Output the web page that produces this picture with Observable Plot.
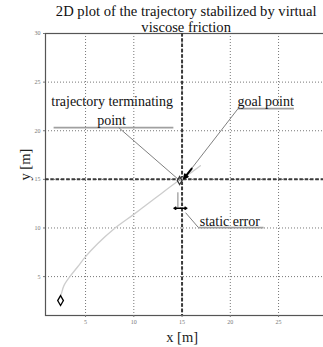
<!DOCTYPE html>
<html>
<head>
<meta charset="utf-8">
<script src="https://cdn.jsdelivr.net/npm/d3@7"></script>
<script src="https://cdn.jsdelivr.net/npm/@observablehq/plot@0.6"></script>
<style>
  html, body { margin: 0; padding: 0; background: #fff; overflow: hidden; }
  #chart svg { display: block; font-family: "Liberation Serif", "Times New Roman", serif; }
</style>
</head>
<body>
<div id="chart"></div>
<script>
// ---- data ----
const titleLines = ["2D plot of the trajectory stabilized by virtual", "viscose friction"];
const xLabel = "x [m]";
const yLabel = "y [m]";
const xTicks = [5, 10, 15, 20, 25];
const yTicks = [5, 10, 15, 20, 25, 30];
const xDomain = [0.85, 30];
const yDomain = [1, 30];

// trajectory (light gray curve)
const trajX = [2.41, 2.5, 2.76, 3.38, 4.15, 5.0, 6.22, 7.94, 10.0, 12.0, 14.67, 15.8, 16.9];
const trajY = [2.95, 3.25, 4.07, 5.0, 5.96, 7.06, 8.36, 9.9, 11.4, 12.9, 14.88, 15.6, 16.4];
// start point marker and terminating point marker
const startX = [2.41], startY = [2.53];
const termX = [14.75], termY = [14.88];
// goal point (dashed cross)
const goalX = [15], goalY = [15];

// annotation texts
const noteText = ["trajectory terminating", "point", "goal point", "static error"];
const noteX = [7.75, 7.7, 23.66, 19.95];
const noteY = [23.05, 21.1, 23.05, 10.65];

// underlines
const ulX1 = [1.69, 20.76, 16.7], ulX2 = [14.1, 26.6, 23.45];
const ulY = [20.33, 22.27, 10.04];

// pointer lines
const ptrX1 = [8.43, 20.8, 16.7, 14.57], ptrY1 = [20.33, 22.27, 10.04, 13.67];
const ptrX2 = [14.75, 15.2, 15.37, 14.57], ptrY2 = [14.88, 15.1, 11.57, 12.1];

// goal arrow head segment
const headX1 = [16.0], headY1 = [16.1], headX2 = [15.2], headY2 = [15.1];
// static error double arrow
const errX1 = [14.16], errX2 = [15.5], errY = [12.03];

const traj = trajX.map((x, i) => ({x, y: trajY[i]}));
const notes = noteText.map((t, i) => ({t, x: noteX[i], y: noteY[i]}));
const uls = ulY.map((y, i) => ({x1: ulX1[i], x2: ulX2[i], y}));
const ptrs = ptrX1.map((x1, i) => ({x1, y1: ptrY1[i], x2: ptrX2[i], y2: ptrY2[i]}));
const mid = (errX1[0] + errX2[0]) / 2;

const font = "'Liberation Serif', 'Times New Roman', serif";

const chart = Plot.plot({
  width: 323,
  height: 347,
  marginLeft: 45,
  marginRight: -3.3,
  marginTop: 33,
  marginBottom: 32,
  style: {fontFamily: font, background: "#fff", color: "#000"},
  x: {domain: xDomain},
  y: {domain: yDomain},
  marks: [
    Plot.gridX(xTicks, {stroke: "#777", strokeOpacity: 1, strokeDasharray: "1,2"}),
    Plot.gridY(yTicks, {stroke: "#777", strokeOpacity: 1, strokeDasharray: "1,2"}),
    Plot.frame({stroke: "#555", strokeWidth: 1.2}),
    Plot.axisX(xTicks, {tickSize: 2, tickPadding: 2, fontSize: 6, fill: "#777", stroke: "#777", label: null}),
    Plot.axisY(yTicks, {tickSize: 2, tickPadding: 3, fontSize: 6, fill: "#777", stroke: "#777", label: null}),
    Plot.ruleX(goalX, {stroke: "#3a3a3a", strokeWidth: 2, strokeDasharray: "3.5,1.8"}),
    Plot.ruleY(goalY, {stroke: "#3a3a3a", strokeWidth: 2, strokeDasharray: "3.5,1.8"}),
    Plot.line(traj, {x: "x", y: "y", stroke: "#cdcdcd", strokeWidth: 1.3, curve: "catmull-rom"}),
    Plot.link(uls, {x1: "x1", x2: "x2", y1: "y", y2: "y", stroke: "#a0a0a0", strokeWidth: 1.8}),
    Plot.link(ptrs, {x1: "x1", y1: "y1", x2: "x2", y2: "y2", stroke: "#808080", strokeWidth: 1}),
    Plot.arrow(headX1.map((x, i) => ({x1: x, y1: headY1[i], x2: headX2[i], y2: headY2[i]})),
      {x1: "x1", y1: "y1", x2: "x2", y2: "y2", stroke: "#000", strokeWidth: 2, headLength: 6, headAngle: 50}),
    Plot.arrow([{x1: mid, x2: errX1[0], y: errY[0]}, {x1: mid, x2: errX2[0], y: errY[0]}],
      {x1: "x1", x2: "x2", y1: "y", y2: "y", stroke: "#000", strokeWidth: 1.3, headLength: 4, headAngle: 60}),
    Plot.dot(termX.map((x, i) => ({x, y: termY[i]})), {x: "x", y: "y", symbol: "diamond", r: 2.5, stroke: "#333", strokeWidth: 1.2, fill: "none"}),
    Plot.dot(startX.map((x, i) => ({x, y: startY[i]})), {x: "x", y: "y", symbol: "diamond", r: 3, stroke: "#000", strokeWidth: 1.3, fill: "none"}),
    Plot.text(notes, {x: "x", y: "y", text: "t", fontSize: 14, fill: "#111", lineAnchor: "middle", fontFamily: font}),
    Plot.text([titleLines[0]], {frameAnchor: "top", dy: -22.5, fontSize: 14.6, fill: "#111", lineAnchor: "middle", fontFamily: font}),
    Plot.text([titleLines[1]], {frameAnchor: "top", dy: -6, fontSize: 14.6, fill: "#111", lineAnchor: "middle", fontFamily: font}),
    Plot.text([xLabel], {frameAnchor: "bottom", dy: 22, dx: -4, fontSize: 14.5, fill: "#222", lineAnchor: "middle", fontFamily: font}),
    Plot.text([yLabel], {frameAnchor: "left", dx: -20, dy: 6, rotate: -90, fontSize: 14.5, fill: "#222", lineAnchor: "middle", fontFamily: font})
  ]
});
document.getElementById("chart").append(chart);
</script>
</body>
</html>
